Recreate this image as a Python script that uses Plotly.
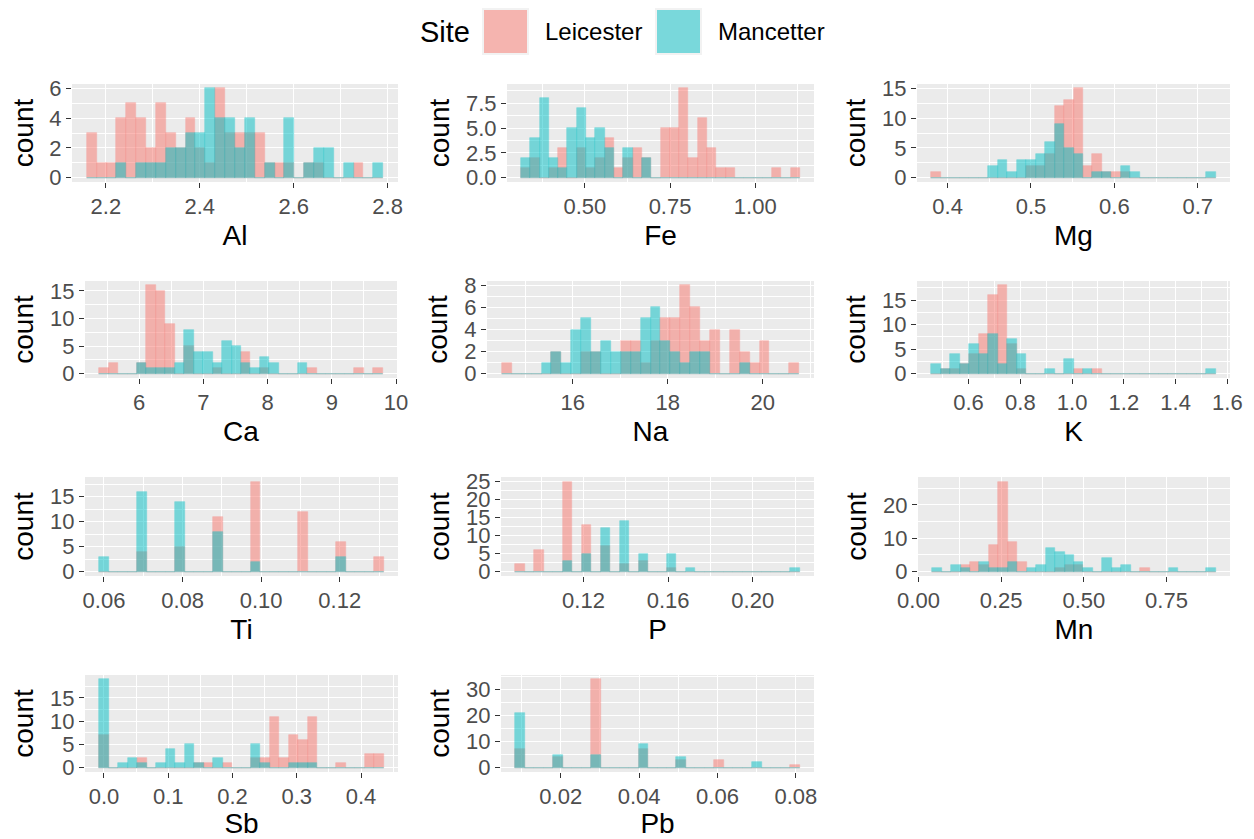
import numpy as np
import plotly.graph_objects as go

SITES = ["Leicester", "Mancetter"]
SITE_COLORS = ["#F8766D", "#00BFC4"]
KEY_COLORS = ["#F5B4AF", "#79D8DB"]

ELEMENTS = ["Al", "Fe", "Mg", "Ca", "Na", "K", "Ti", "P", "Mn", "Sb", "Pb"]
# centre of the first and of the last of the 30 histogram bins, per element
BIN_FIRST = [2.17, 0.326, 0.386, 5.45, 14.61, 0.474, 0.06, 0.09, 0.0556, 0.0, 0.0096]
BIN_LAST = [2.78, 1.118, 0.716, 9.72, 20.66, 1.537, 0.13, 0.22, 0.885, 0.428, 0.0798]

# counts per bin (30 bins) for each site
AL_LEICESTER = [3,1,1,4,5,4,2,5,3,2,4,2,1,6,3,3,3,3,1,1,1,0,1,1,0,0,0,1,0,0]
AL_MANCETTER = [0,0,0,1,0,1,1,1,2,2,3,3,6,4,4,2,4,0,1,0,4,0,1,2,2,0,1,0,0,1]
FE_LEICESTER = [1,2,0,1,3,0,3,1,2,4,1,2,3,2,0,5,5,9,2,6,3,1,1,0,0,0,0,1,0,1]
FE_MANCETTER = [2,4,8,2,1,5,7,4,5,3,0,3,0,2,0,0,0,0,0,0,0,0,0,0,0,0,0,0,0,0]
MG_LEICESTER = [1,0,0,0,0,0,0,0,0,0,2,2,4,12,13,15,2,4,1,1,1,0,0,0,0,0,0,0,0,0]
MG_MANCETTER = [0,0,0,0,0,0,2,3,1,3,3,4,6,9,5,4,0,1,1,0,2,1,0,0,0,0,0,0,0,1]
CA_LEICESTER = [1,2,0,0,2,16,15,9,0,5,0,0,1,0,0,4,0,1,0,0,0,0,1,0,0,0,0,1,0,1]
CA_MANCETTER = [0,0,0,0,2,1,1,1,2,8,4,4,2,6,5,2,1,3,2,0,0,2,0,0,0,0,0,0,0,0]
NA_LEICESTER = [1,0,0,0,0,2,0,0,2,2,0,0,3,3,1,3,5,5,8,6,3,4,0,4,2,1,3,0,0,1]
NA_MANCETTER = [0,0,0,0,1,2,1,4,5,2,3,2,2,2,5,6,3,2,1,2,2,0,0,0,1,0,0,0,0,0]
K_LEICESTER = [0,1,1,2,4,8,16,18,6,1,0,0,0,0,0,1,0,1,0,0,0,0,0,0,0,0,0,0,0,0]
K_MANCETTER = [2,1,4,2,6,4,8,2,7,4,0,0,1,0,3,0,1,0,0,0,0,0,0,0,0,0,0,0,0,1]
TI_LEICESTER = [0,0,0,0,4,0,0,0,5,0,0,0,11,0,0,0,18,0,0,0,0,12,0,0,0,6,0,0,0,3]
TI_MANCETTER = [3,0,0,0,16,0,0,0,14,0,0,0,8,0,0,0,2,0,0,0,0,0,0,0,0,3,0,0,0,0]
P_LEICESTER = [2,0,6,0,0,25,0,13,0,7,0,2,0,3,0,0,1,0,0,0,0,0,0,0,0,0,0,0,0,0]
P_MANCETTER = [0,0,0,0,0,3,0,5,0,12,0,14,0,5,0,0,5,0,1,0,0,0,0,0,0,0,0,0,0,1]
MN_LEICESTER = [0,0,0,2,3,2,8,27,9,3,0,0,0,1,2,2,0,0,0,0,0,0,1,0,0,0,0,0,0,0]
MN_MANCETTER = [1,0,2,1,0,3,1,1,3,0,1,2,7,6,5,3,1,0,4,1,2,0,0,0,0,1,0,0,0,1]
SB_LEICESTER = [7,0,0,0,2,0,0,0,0,0,1,1,0,1,0,0,2,2,11,2,7,6,11,0,0,1,0,0,3,3]
SB_MANCETTER = [19,0,1,2,1,0,1,4,1,5,1,0,2,0,0,0,5,1,0,0,1,1,1,0,0,0,0,0,0,0]
PB_LEICESTER = [7,0,0,0,4,0,0,0,34,0,0,0,0,7,0,0,0,3,0,0,0,3,0,0,0,0,0,0,0,1]
PB_MANCETTER = [21,0,0,0,5,0,0,0,5,0,0,0,0,9,0,0,0,4,0,0,0,0,0,0,0,2,0,0,0,0]

COUNTS = [
    (AL_LEICESTER, AL_MANCETTER), (FE_LEICESTER, FE_MANCETTER), (MG_LEICESTER, MG_MANCETTER),
    (CA_LEICESTER, CA_MANCETTER), (NA_LEICESTER, NA_MANCETTER), (K_LEICESTER, K_MANCETTER),
    (TI_LEICESTER, TI_MANCETTER), (P_LEICESTER, P_MANCETTER), (MN_LEICESTER, MN_MANCETTER),
    (SB_LEICESTER, SB_MANCETTER), (PB_LEICESTER, PB_MANCETTER),
]

X_TICK_STEP = [0.2, 0.25, 0.1, 1, 2, 0.2, 0.02, 0.04, 0.25, 0.1, 0.02]
X_TICK_FMT = [".1f", ".2f", ".1f", ".0f", ".0f", ".1f", ".2f", ".2f", ".2f", ".1f", ".2f"]
Y_TICK_STEP = [2, 2.5, 5, 5, 2, 5, 5, 5, 10, 5, 10]
Y_TICK_FMT = [".0f", ".1f", ".0f", ".0f", ".0f", ".0f", ".0f", ".0f", ".0f", ".0f", ".0f"]

# layout: panel boxes in window pixels (left, right, top, bottom)
OFF = 8  # default page margin of the html body
W, H = 1254 - OFF, 839 - OFF
PANEL_BOX = [
    (72, 398, 84, 182), (507, 814, 84, 182), (917, 1230, 84, 182),
    (85, 397, 281, 378), (487, 814, 281, 378), (917, 1230, 281, 378),
    (85, 398, 477, 576), (501, 814, 477, 576), (918, 1230, 477, 576),
    (85, 398, 675, 772), (501, 814, 675, 772),
]


def px(v):
    return (v - OFF) / W


def py(v):
    return 1 - (v - OFF) / H


FONT = "Liberation Sans, Arial, sans-serif"
fig = go.Figure()
layout = {}

for i, el in enumerate(ELEMENTS):
    n = "" if i == 0 else str(i + 1)
    first, last = BIN_FIRST[i], BIN_LAST[i]
    w = (last - first) / 29.0
    centers = first + w * np.arange(30)
    ymax = 0
    for s, site in enumerate(SITES):
        counts = COUNTS[i][s]
        ymax = max(ymax, max(counts))
        fig.add_trace(go.Bar(
            x=centers, y=counts, width=w, name=site, showlegend=False,
            marker=dict(color=SITE_COLORS[s], opacity=0.5,
                        line=dict(color=SITE_COLORS[s], width=0.6)),
            xaxis="x" + n, yaxis="y" + n,
        ))
    x0, x1 = first - w / 2, last + w / 2
    pad = 0.05 * (x1 - x0)
    l, r, t, b = PANEL_BOX[i]
    common = dict(
        showgrid=True, gridcolor="white", gridwidth=1.4, zeroline=False, showline=False,
        ticks="outside", ticklen=5, tickwidth=1.1, tickcolor="#333333",
        tickfont=dict(family=FONT, size=22, color="#4D4D4D"),
        automargin=False,
    )
    minor = dict(showgrid=True, gridcolor="white", gridwidth=0.6, ticklen=0)
    layout["xaxis" + n] = dict(
        common, domain=[px(l), px(r)], range=[x0 - pad, x1 + pad], anchor="y" + n,
        tickmode="linear", tick0=0, dtick=X_TICK_STEP[i], tickformat=X_TICK_FMT[i],
        minor=dict(minor, dtick=X_TICK_STEP[i] / 2, tick0=0),
        title=dict(text=el, font=dict(family=FONT, size=28, color="black"), standoff=6),
    )
    layout["yaxis" + n] = dict(
        common, domain=[py(b), py(t)], range=[-0.05 * ymax, 1.05 * ymax], anchor="x" + n,
        tickmode="linear", tick0=0, dtick=Y_TICK_STEP[i], tickformat=Y_TICK_FMT[i],
        minor=dict(minor, dtick=Y_TICK_STEP[i] / 2, tick0=0),
        title=dict(text="count", font=dict(family=FONT, size=28, color="black"), standoff=8),
    )

# legend drawn at the top
shapes = []
annotations = [dict(text="Site", x=px(418), y=py(32), xref="paper", yref="paper",
                    xanchor="left", yanchor="middle", showarrow=False,
                    font=dict(family=FONT, size=29, color="black"))]
KEY_X = [483, 656]
LABEL_X = [543, 716]
for s, site in enumerate(SITES):
    shapes.append(dict(type="rect", xref="paper", yref="paper",
                       x0=px(KEY_X[s]), x1=px(KEY_X[s] + 45), y0=py(54), y1=py(9),
                       fillcolor=KEY_COLORS[s], line=dict(color="#F2F2F2", width=2)))
    annotations.append(dict(text=site, x=px(LABEL_X[s]), y=py(32), xref="paper", yref="paper",
                            xanchor="left", yanchor="middle", showarrow=False,
                            font=dict(family=FONT, size=24, color="black")))

fig.update_layout(
    width=W, height=H, margin=dict(l=0, r=0, t=0, b=0),
    paper_bgcolor="white", plot_bgcolor="#EBEBEB",
    barmode="overlay", bargap=0, showlegend=False,
    shapes=shapes, annotations=annotations,
    font=dict(family=FONT),
    **layout,
)
fig.write_html("out.html")
